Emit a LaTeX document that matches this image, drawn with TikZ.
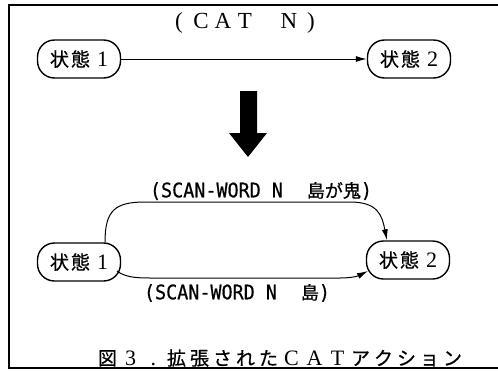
\documentclass[tikz,border=0pt]{standalone}
\usepackage{fontspec}
\setmainfont{Liberation Serif}
\newfontfamily\cjk[FakeBold=0.6]{Noto Sans CJK JP}
\newfontfamily\mono[FakeStretch=0.92,FakeBold=0.6]{DejaVu Sans Mono}
\usetikzlibrary{arrows.meta}
\newcommand\statetext[1]{{\cjk 状\kern2pt 態}\kern7pt{\fontsize{22}{22}\selectfont #1}}
\newcommand\cc[1]{\makebox[22pt]{#1}}
\newcommand\kc[1]{\makebox[23pt]{#1}}
\newcommand\lc[1]{\makebox[23pt]{\fontsize{22}{22}\selectfont #1}}
\begin{document}
\begin{tikzpicture}[x=1pt,y=-1pt,
  state/.style={draw,line width=1.4pt,rounded corners=17pt,minimum width=83pt,minimum height=38pt,inner sep=0pt,font=\fontsize{19}{19}\selectfont},
  conn/.style={line width=1pt,-{Latex[length=11pt,width=6pt]}},
  lab/.style={inner sep=0pt,font=\fontsize{20}{20}\selectfont}]
\useasboundingbox (0,0) rectangle (498,370);
\draw[line width=1.3pt] (498,5) -- (9,5) -- (9,368) -- (498,368);
% top
\node[state] (a1) at (79,59) {\statetext{1}};
\node[state] (a2) at (409,59) {\statetext{2}};
\draw[conn] (a1) -- (a2);
\node[lab,font=\fontsize{23}{23}\selectfont] (t1) at (245,23) {\cc{(}\cc{C}\cc{A}\cc{T}\cc{}\cc{N}\cc{)}};
% big arrow
\fill (240,91) -- (257,91) -- (257,133) -- (267,133) -- (248,157) -- (229,133) -- (240,133) -- cycle;
% bottom
\node[state] (b1) at (79,262) {\statetext{1}};
\node[state] (b2) at (408,260) {\statetext{2}};
\draw[conn] ([xshift=26pt]b1.north) .. controls +(0,-32) and +(-30,0) .. (145,202) -- (350,202) .. controls +(28,0) and +(-5,-25) .. ([xshift=-21pt]b2.north);
\draw[conn] ([shift={(38,9)}]b1.center) .. controls +(8,6) and +(-15,0) .. (150,278) -- (340,278) .. controls +(12,0) and +(-10,5) .. ([shift={(-40,11)}]b2.center);
\node[lab] (l1) at (261,191) {{\mono (SCAN-WORD N}\hspace{24pt}{\cjk\fontsize{18}{18}\selectfont 島が鬼}{\mono )}};
\node[lab] (l2) at (237,293) {{\mono (SCAN-WORD N}\hspace{24pt}{\cjk\fontsize{18}{18}\selectfont 島}{\mono )}};
% caption
\node[lab,font=\fontsize{19}{19}\selectfont] (cap) at (280,358) {\kc{\cjk 図}\lc{3}\lc{.}\kc{\cjk 拡}\kc{\cjk 張}\kc{\cjk さ}\kc{\cjk れ}\kc{\cjk た}\lc{C}\lc{A}\lc{T}\kc{\cjk ア}\kc{\cjk ク}\kc{\cjk シ}\kc{\cjk ョ}\kc{\cjk ン}};
\end{tikzpicture}
\end{document}
